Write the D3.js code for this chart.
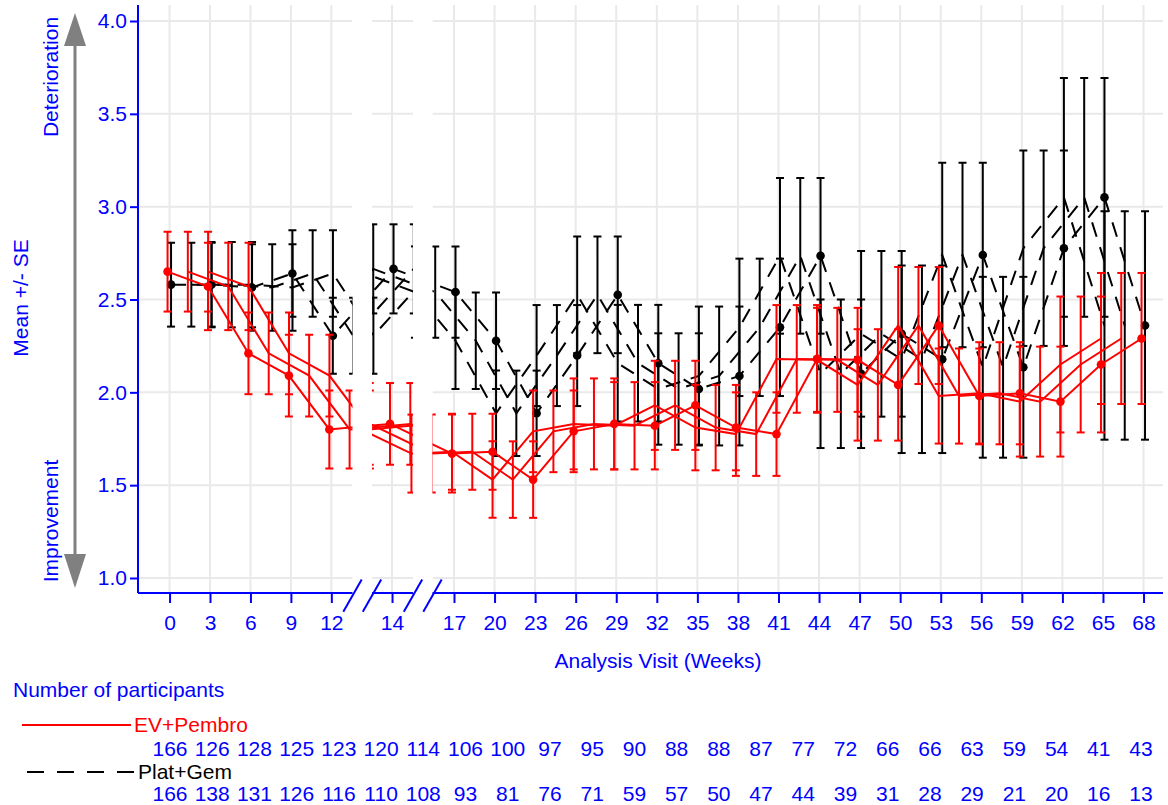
<!DOCTYPE html>
<html><head><meta charset="utf-8">
<script src="https://cdn.jsdelivr.net/npm/d3@7"></script>
<style>
body{margin:0;background:#fff;}
text{font-family:"Liberation Sans",Arial,Helvetica,sans-serif;}
</style>
</head><body>
<svg id="chart" width="1168" height="805"></svg>
<script>
// ---------------- data ----------------
const weeks = [0,3,6,9,12,14,17,20,23,26,29,32,35,38,41,44,47,50,53,56,59,62,65,68];
const evMean = [2.65,2.57,2.21,2.09,1.80,1.83,1.67,1.68,1.53,1.79,1.83,1.82,1.93,1.81,1.775,2.18,2.175,2.04,2.36,1.98,1.995,1.95,2.15,2.29];
const evSE   = [0.215,0.235,0.22,0.22,0.21,0.22,0.21,0.205,0.206,0.22,0.245,0.235,0.24,0.23,0.225,0.29,0.28,0.30,0.315,0.256,0.275,0.296,0.366,0.353];
const pgMean = [2.58,2.58,2.565,2.64,2.305,2.665,2.54,2.278,1.887,2.198,2.525,2.157,2.018,2.088,2.35,2.735,2.10,2.315,2.178,2.74,2.135,2.776,3.05,2.36];
const pgSE   = [0.226,0.23,0.233,0.233,0.205,0.24,0.246,0.26,0.23,0.272,0.314,0.314,0.30,0.374,0.37,0.419,0.40,0.446,0.505,0.497,0.487,0.526,0.643,0.615];
const evN = [166,126,128,125,123,120,114,106,100,97,95,90,88,88,87,77,72,66,66,63,59,54,41,43];
const pgN = [166,138,131,126,116,110,108,93,81,76,71,59,57,50,47,44,39,31,28,29,21,20,16,13];
const yTicks = [1.0,1.5,2.0,2.5,3.0,3.5,4.0];
const seriesNames = ["EV+Pembro","Plat+Gem"];

// ---------------- layout ----------------
const svg = d3.select('#chart');
const blue = '#0000ff';
const FS = '21px';
const plotTop = 5, plotBottom = 593, plotLeft = 138, plotRight = 1163;
const y = d3.scaleLinear().domain([1,4]).range([578,21]);

const segments = [
  {domain:[-2.34,13.57], range:[plotLeft,352.5], shifts:[0,1,2]},
  {domain:[12.52,15.55], range:[372,413],       shifts:[-2,-1,0,1,2]},
  {domain:[15.41,69.44], range:[432.5,plotRight], shifts:[0,-1,-2]}
];
segments.forEach(s => s.scale = d3.scaleLinear().domain(s.domain).range(s.range));
function segOf(w){ return segments.find(s => w >= s.domain[0] && w <= s.domain[1]); }
function P(w){ return segOf(w).scale(w); }
const h = segments[2].scale(1.5) - segments[2].scale(0);

const series = [
  {name:seriesNames[1], mean:pgMean, se:pgSE, color:'#000000', off:1.5, dash:'15,11'},
  {name:seriesNames[0], mean:evMean, se:evSE, color:'#ff0000', off:-2, dash:null}
];

const defs = svg.append('defs');

// ---------------- grid + data per segment ----------------
segments.forEach((s, si) => {
  const cid = 'clip' + si;
  defs.append('clipPath').attr('id', cid).append('rect')
    .attr('x', s.range[0]).attr('y', plotTop)
    .attr('width', s.range[1] - s.range[0]).attr('height', plotBottom - plotTop);
  const g = svg.append('g').attr('clip-path', `url(#${cid})`);
  g.selectAll('line.hg').data(yTicks).join('line')
    .attr('x1', s.range[0]).attr('x2', s.range[1])
    .attr('y1', d => y(d)).attr('y2', d => y(d))
    .attr('stroke', '#e9e9e9').attr('stroke-width', 2);
  const segWeeks = weeks.filter(w => segOf(w) === s);
  g.selectAll('line.vg').data(segWeeks).join('line')
    .attr('x1', d => s.scale(d)).attr('x2', d => s.scale(d))
    .attr('y1', plotTop).attr('y2', plotBottom)
    .attr('stroke', '#e9e9e9').attr('stroke-width', 2);

  series.forEach(ser => {
    s.shifts.forEach(k => {
      const pts = weeks.map((w, i) => ({x: P(w) + k * h + ser.off, m: ser.mean[i], se: ser.se[i]}));
      const line = d3.line().x(d => d.x).y(d => y(d.m));
      g.append('path').attr('d', line(pts)).attr('fill', 'none')
        .attr('stroke', ser.color).attr('stroke-width', 2)
        .attr('stroke-dasharray', ser.dash);
      const eb = g.append('g').attr('stroke', ser.color).attr('stroke-width', 2);
      eb.selectAll('line.v').data(pts).join('line')
        .attr('x1', d => d.x).attr('x2', d => d.x)
        .attr('y1', d => y(d.m - d.se)).attr('y2', d => y(d.m + d.se));
      eb.selectAll('line.t').data(pts).join('line')
        .attr('x1', d => d.x - 4).attr('x2', d => d.x + 4)
        .attr('y1', d => y(d.m + d.se)).attr('y2', d => y(d.m + d.se));
      eb.selectAll('line.b').data(pts).join('line')
        .attr('x1', d => d.x - 4).attr('x2', d => d.x + 4)
        .attr('y1', d => y(d.m - d.se)).attr('y2', d => y(d.m - d.se));
      if (k === 0) {
        g.append('g').selectAll('circle').data(pts).join('circle')
          .attr('cx', d => d.x).attr('cy', d => y(d.m)).attr('r', 4.3)
          .attr('fill', ser.color);
      }
    });
  });
});

// ---------------- axes ----------------
const yAx = svg.append('g').attr('transform', `translate(${plotLeft},0)`)
  .call(d3.axisLeft(y).tickValues(yTicks).tickFormat(d3.format('.1f')).tickSize(8).tickPadding(3));
yAx.select('.domain').remove();
yAx.selectAll('line').attr('stroke', blue).attr('stroke-width', 2);
yAx.selectAll('text').attr('fill', blue).style('font-size', FS)
  .style('font-family', '"Liberation Sans",Arial,sans-serif');
svg.append('line').attr('x1', plotLeft).attr('x2', plotLeft).attr('y1', plotTop).attr('y2', plotBottom)
  .attr('stroke', blue).attr('stroke-width', 2);

segments.forEach(s => {
  const segWeeks = weeks.filter(w => segOf(w) === s);
  const ax = svg.append('g').attr('transform', `translate(0,${plotBottom})`)
    .call(d3.axisBottom(s.scale).tickValues(segWeeks).tickFormat(d3.format('d'))
      .tickSize(10).tickSizeOuter(0).tickPadding(12));
  ax.select('.domain').remove();
  ax.selectAll('line').attr('stroke', blue).attr('stroke-width', 2);
  ax.selectAll('text').attr('fill', blue).style('font-size', FS)
    .style('font-family', '"Liberation Sans",Arial,sans-serif');
  svg.append('line').attr('x1', s.range[0]).attr('x2', s.range[1])
    .attr('y1', plotBottom).attr('y2', plotBottom)
    .attr('stroke', blue).attr('stroke-width', 2);
});
[segments[0].range[1], segments[1].range[0], segments[1].range[1], segments[2].range[0]].forEach(bx => {
  svg.append('line').attr('x1', bx - 9.2).attr('y1', 611.7).attr('x2', bx + 9.2).attr('y2', 579.5)
    .attr('stroke', blue).attr('stroke-width', 2);
});

svg.append('text').attr('x', 658).attr('y', 668).attr('text-anchor', 'middle')
  .attr('fill', blue).style('font-size', FS).text('Analysis Visit (Weeks)');

svg.append('text').attr('transform', 'translate(28,298) rotate(-90)').attr('text-anchor', 'middle')
  .attr('fill', blue).style('font-size', FS).text('Mean +/- SE');
svg.append('text').attr('transform', 'translate(58,77) rotate(-90)').attr('text-anchor', 'middle')
  .attr('fill', blue).style('font-size', FS).text('Deterioration');
svg.append('text').attr('transform', 'translate(58,521) rotate(-90)').attr('text-anchor', 'middle')
  .attr('fill', blue).style('font-size', FS).text('Improvement');
const gray = '#808080';
svg.append('line').attr('x1', 75).attr('x2', 75).attr('y1', 40).attr('y2', 558)
  .attr('stroke', gray).attr('stroke-width', 3);
svg.append('path').attr('d', 'M75,13 L64,46 L86,46 Z').attr('fill', gray);
svg.append('path').attr('d', 'M75,588 L64,554 L86,554 Z').attr('fill', gray);

// ---------------- participants table ----------------
svg.append('text').attr('x', 13).attr('y', 697).attr('fill', blue).style('font-size', FS)
  .text('Number of participants');
svg.append('line').attr('x1', 22).attr('x2', 131).attr('y1', 725).attr('y2', 725)
  .attr('stroke', '#ff0000').attr('stroke-width', 2);
svg.append('text').attr('x', 134).attr('y', 732).attr('fill', '#ff0000').style('font-size', FS)
  .text(seriesNames[0]);
svg.append('line').attr('x1', 27).attr('x2', 136).attr('y1', 772).attr('y2', 772)
  .attr('stroke', '#000').attr('stroke-width', 2).attr('stroke-dasharray', '17,13');
svg.append('text').attr('x', 138).attr('y', 779).attr('fill', '#000').style('font-size', FS)
  .text(seriesNames[1]);

const nx = d3.scaleLinear().domain([0, weeks.length - 1]).range([170, 1141]);
svg.append('g').selectAll('text').data(evN).join('text')
  .attr('x', (d, i) => nx(i)).attr('y', 756).attr('text-anchor', 'middle')
  .attr('fill', blue).style('font-size', FS).text(d => d);
svg.append('g').selectAll('text').data(pgN).join('text')
  .attr('x', (d, i) => nx(i)).attr('y', 801).attr('text-anchor', 'middle')
  .attr('fill', blue).style('font-size', FS).text(d => d);
</script>
</body></html>
